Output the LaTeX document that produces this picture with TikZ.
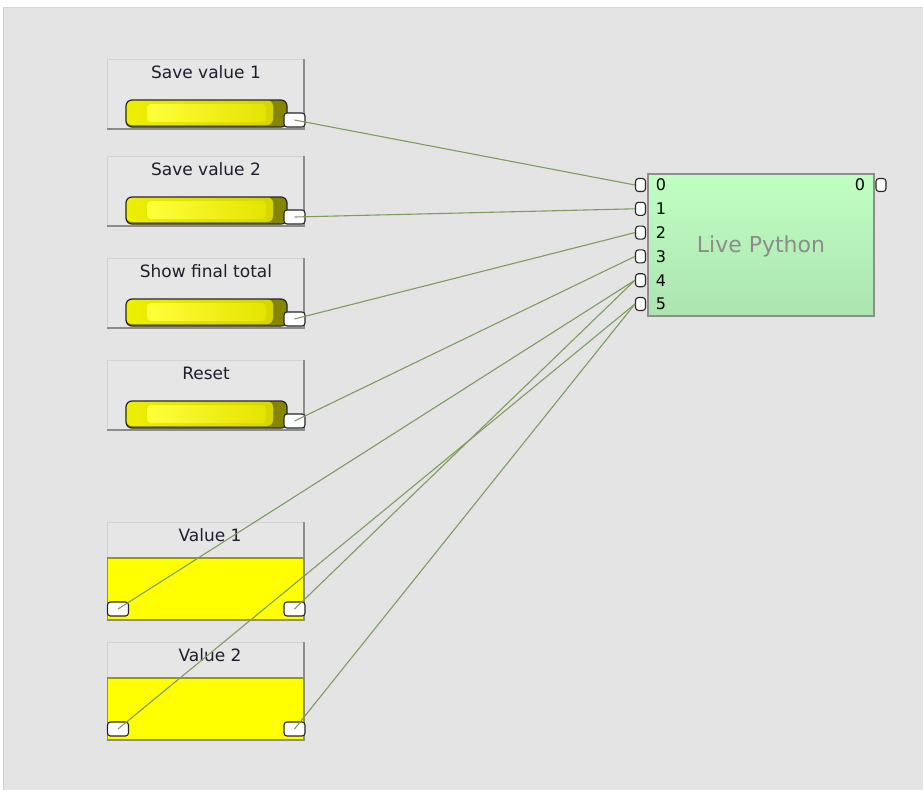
\documentclass[tikz,border=0pt]{standalone}
\usepackage{fontspec}
\setmainfont{DejaVu Sans}
\definecolor{bg}{HTML}{E4E4E4}
\definecolor{bgedge}{HTML}{CCCCCC}
\definecolor{panel}{HTML}{E6E6E6}
\definecolor{panellight}{HTML}{D2D2D2}
\definecolor{panelshadow}{HTML}{8C8C8C}
\definecolor{wire}{HTML}{7E9C5E}
\definecolor{olivebar}{HTML}{858500}
\definecolor{yelA}{HTML}{EEEE00}
\definecolor{yelB}{HTML}{D6D600}
\definecolor{yelHiA}{HTML}{FFFF3C}
\definecolor{yelHiB}{HTML}{E4E400}
\definecolor{dispyel}{HTML}{FFFF00}
\definecolor{dispedge}{HTML}{9A9A00}
\definecolor{pytop}{HTML}{C0FFC2}
\definecolor{pybot}{HTML}{ACE4B0}
\definecolor{pyedge}{HTML}{8E8E8E}
\definecolor{pytext}{HTML}{8C8C8C}
\definecolor{lbltext}{HTML}{1E1E2E}
\tikzset{
  lbl/.style={font=\fontsize{17}{19}\selectfont, text=lbltext, inner sep=0pt},
  numlbl/.style={font=\fontsize{16}{18}\selectfont, text=black, inner sep=0pt},
  bport/.style={rectangle, rounded corners=3, fill=white, draw=black!85, line width=1.1pt,
    minimum width=21pt, minimum height=14pt, inner sep=0pt},
  pport/.style={rectangle, rounded corners=3, fill=white, draw=black!85, line width=1.1pt,
    minimum width=10pt, minimum height=13pt, inner sep=0pt},
  wireline/.style={draw=wire, line width=1.1pt},
}
\newcommand{\btnpanel}[3]{%
  \fill[panel] (107,#2) rectangle (305,#2+71);
  \draw[panellight, line width=1pt] (107.5,#2+70) -- (107.5,#2+0.5) -- (304,#2+0.5);
  \draw[panelshadow, line width=2pt] (304,#2) -- (304,#2+70) -- (107,#2+70);
  \node[lbl] (#1t) at (206,#2+13) {#3};
  \fill[olivebar, rounded corners=6pt] (126,#2+41) rectangle (287,#2+68);
  \shade[left color=yelA, right color=yelB, rounded corners=6pt] (126,#2+41) rectangle (273,#2+66);
  \shade[left color=yelHiA, right color=yelHiB, rounded corners=4pt] (147,#2+45) rectangle (266,#2+63);
  \draw[black!85, line width=1.2pt, rounded corners=6pt] (126,#2+41) rectangle (287,#2+68);
  \node[bport] (#1p) at (294.5,#2+61) {};
}
\newcommand{\dispanel}[3]{%
  \fill[panel] (107,#2) rectangle (305,#2+36);
  \fill[dispyel] (107,#2+36) rectangle (305,#2+98);
  \draw[panellight, line width=1pt] (107.5,#2+36) -- (107.5,#2+0.5) -- (304,#2+0.5);
  \draw[dispedge, line width=1.2pt] (107,#2+36) -- (305,#2+36);
  \draw[dispedge, line width=1pt] (107.5,#2+36) -- (107.5,#2+98);
  \draw[panelshadow, line width=2pt] (304,#2) -- (304,#2+98) -- (107,#2+98);
  \node[lbl] (#1t) at (210,#2+13) {#3};
  \node[bport] (#1l) at (118,#2+87) {};
  \node[bport] (#1r) at (294.5,#2+87) {};
}
\begin{document}
\begin{tikzpicture}[x=1pt,y=-1pt]
\useasboundingbox (0,0) rectangle (923,790);
\fill[white] (0,0) rectangle (923,790);
\fill[bg] (3,7) rectangle (923,790);
\draw[bgedge, line width=1pt] (3.5,7) -- (3.5,790);
\draw[bgedge!60!bg, line width=1pt] (3,7.5) -- (923,7.5);

\btnpanel{sa}{59}{Save value 1}
\btnpanel{sb}{156}{Save value 2}
\btnpanel{sf}{258}{Show final total}
\btnpanel{rs}{360}{Reset}
\dispanel{va}{522}{Value 1}
\dispanel{vb}{642}{Value 2}

% Live Python block
\shade[top color=pytop, bottom color=pybot] (648,174) rectangle (874,316);
\draw[pyedge, line width=1.5pt] (648,174) rectangle (874,316);
\node[font=\fontsize{22}{24}\selectfont, text=pytext, inner sep=0pt] (py) at (761,246) {Live Python};
\foreach \i in {0,...,5} {
  \node[pport] (in\i) at (640.5,185+23.8*\i) {};
  \node[numlbl] (n\i) at (661,185+23.8*\i) {\i};
}
\node[pport] (out0) at (881,185) {};
\node[numlbl] (no) at (860,185) {0};

% wires
\draw[wireline] (sap.center) -- (in0.west);
\draw[wireline] (sbp.center) -- (in1.west);
\draw[wireline] (sfp.center) -- (in2.west);
\draw[wireline] (rsp.center) -- (in3.west);
\draw[wireline] (val.center) -- (in4.west);
\draw[wireline] (var.center) -- (in4.west);
\draw[wireline] (vbl.center) -- (in5.west);
\draw[wireline] (vbr.center) -- (in5.west);
\end{tikzpicture}
\end{document}
